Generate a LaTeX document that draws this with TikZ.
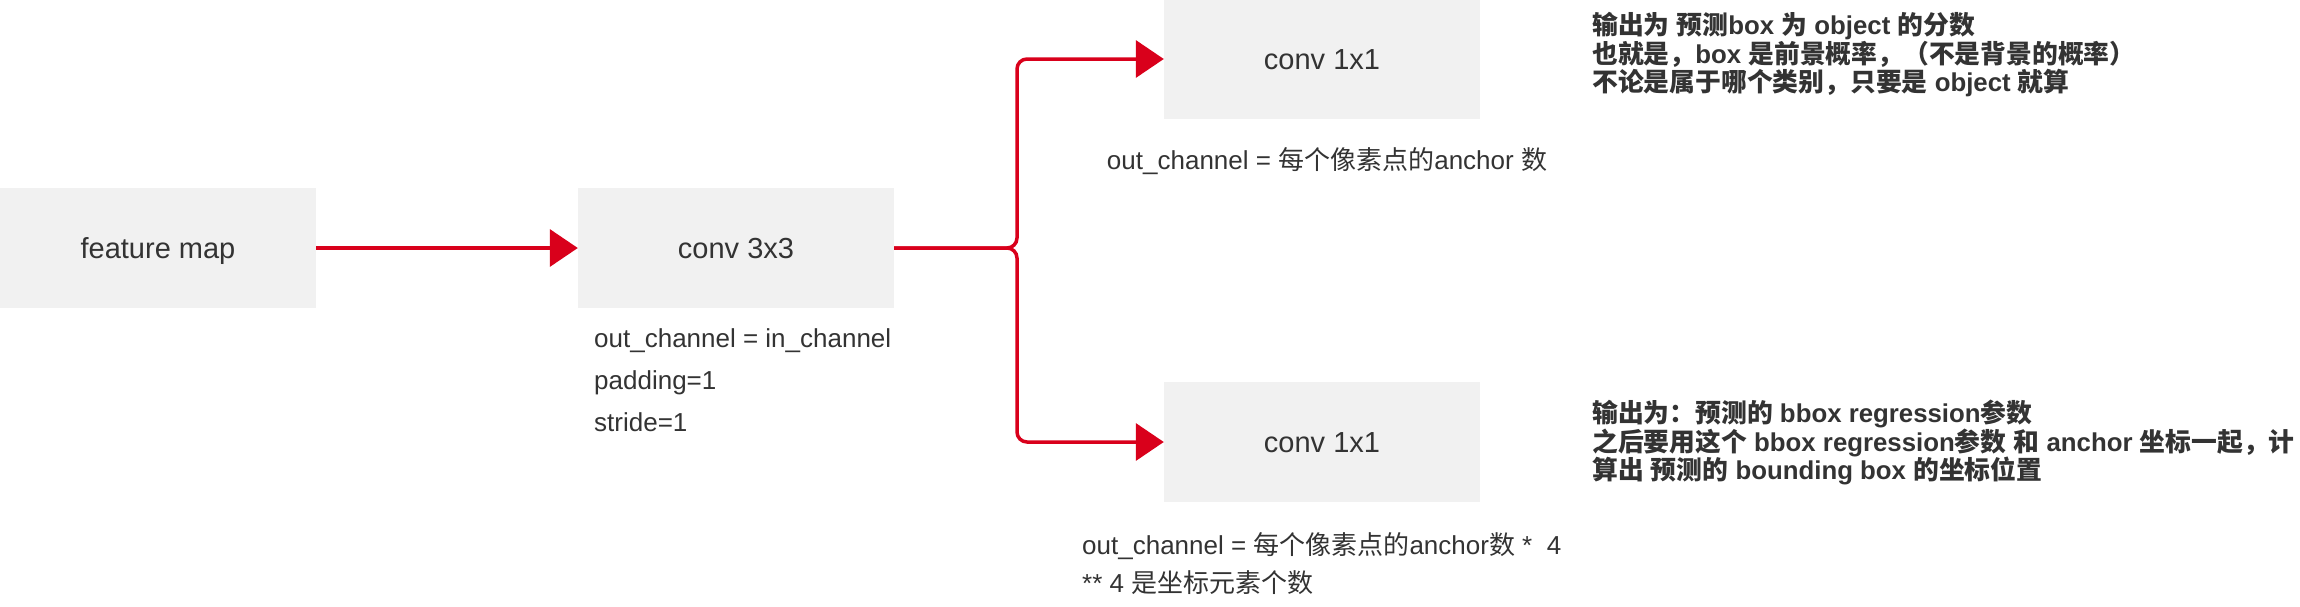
\documentclass[tikz,border=0pt]{standalone}
\usepackage{fontspec}
\setmainfont{Liberation Sans}
\newfontfamily\cjk{Noto Sans CJK SC}
\usetikzlibrary{arrows.meta}
\definecolor{boxgray}{HTML}{F1F1F1}
\definecolor{linered}{HTML}{D9001B}
\definecolor{txt}{HTML}{333333}
\newcommand\zh[1]{{\cjk #1}}
\begin{document}
\begin{tikzpicture}[x=1pt,y=-1pt,
  blk/.style={fill=boxgray, minimum width=316pt, minimum height=120pt, inner sep=0pt,
    text=txt, font=\fontsize{29}{34}\selectfont, text height=21pt, text depth=0pt},
  lbl/.style={anchor=base west, inner sep=0pt, text=txt, font=\fontsize{26}{30}\selectfont},
  clbl/.style={anchor=base, inner sep=0pt, text=txt, font=\fontsize{26}{30}\selectfont},
  note/.style={anchor=base west, inner sep=0pt, text=txt, font=\fontsize{25.8}{28}\selectfont\bfseries},
  flow/.style={draw=linered, line width=3.5pt, -{Triangle[length=28pt,width=37pt]}, rounded corners=10pt}]

\useasboundingbox (0,0) rectangle (2300,606);

% boxes
\node[blk] (fm)  at (158,248)  {feature map};
\node[blk] (c3)  at (736,248)  {conv 3x3};
\node[blk] (c1a) at (1322,59)  {conv 1x1};
\node[blk] (c1b) at (1322,442) {conv 1x1};

% connectors
\coordinate (j) at (1017,248);
\draw[flow] (fm.east) -- (c3.west);
\draw[flow] (c3.east) -- (j) |- (c1a.west);
\draw[flow] (c3.east) -- (j) |- (c1b.west);

% conv 3x3 labels
\node[lbl] (l3a) at (594,347) {out\_channel = in\_channel};
\node[lbl] (l3b) at (594,389) {padding=1};
\node[lbl] (l3c) at (594,431) {stride=1};

% conv 1x1 (top) label
\node[clbl] (l1a) at (1327,169) {out\_channel = \zh{每个像素点的}anchor \zh{数}};

% conv 1x1 (bottom) labels
\node[lbl] (l1b) at (1082,554) {out\_channel = \zh{每个像素点的}anchor\zh{数} *\ \ 4};
\node[lbl] (l1c) at (1082,592) {** 4 \zh{是坐标元素个数}};

% notes top
\node[note] (n1) at (1592,34) {\zh{输出为} \zh{预测}box \zh{为} object \zh{的分数}};
\node[note] (n2) at (1592,63) {\zh{也就是，}box \zh{是前景概率，（不是背景的概率）}};
\node[note] (n3) at (1592,91) {\zh{不论是属于哪个类别，只要是} object \zh{就算}};

% notes bottom
\node[note] (n4) at (1592,422) {\zh{输出为：预测的} bbox regression\zh{参数}};
\node[note] (n5) at (1592,451) {\zh{之后要用这个} bbox regression\zh{参数} \zh{和} anchor \zh{坐标一起，计}};
\node[note] (n6) at (1592,479) {\zh{算出} \zh{预测的} bounding box \zh{的坐标位置}};
\end{tikzpicture}
\end{document}
